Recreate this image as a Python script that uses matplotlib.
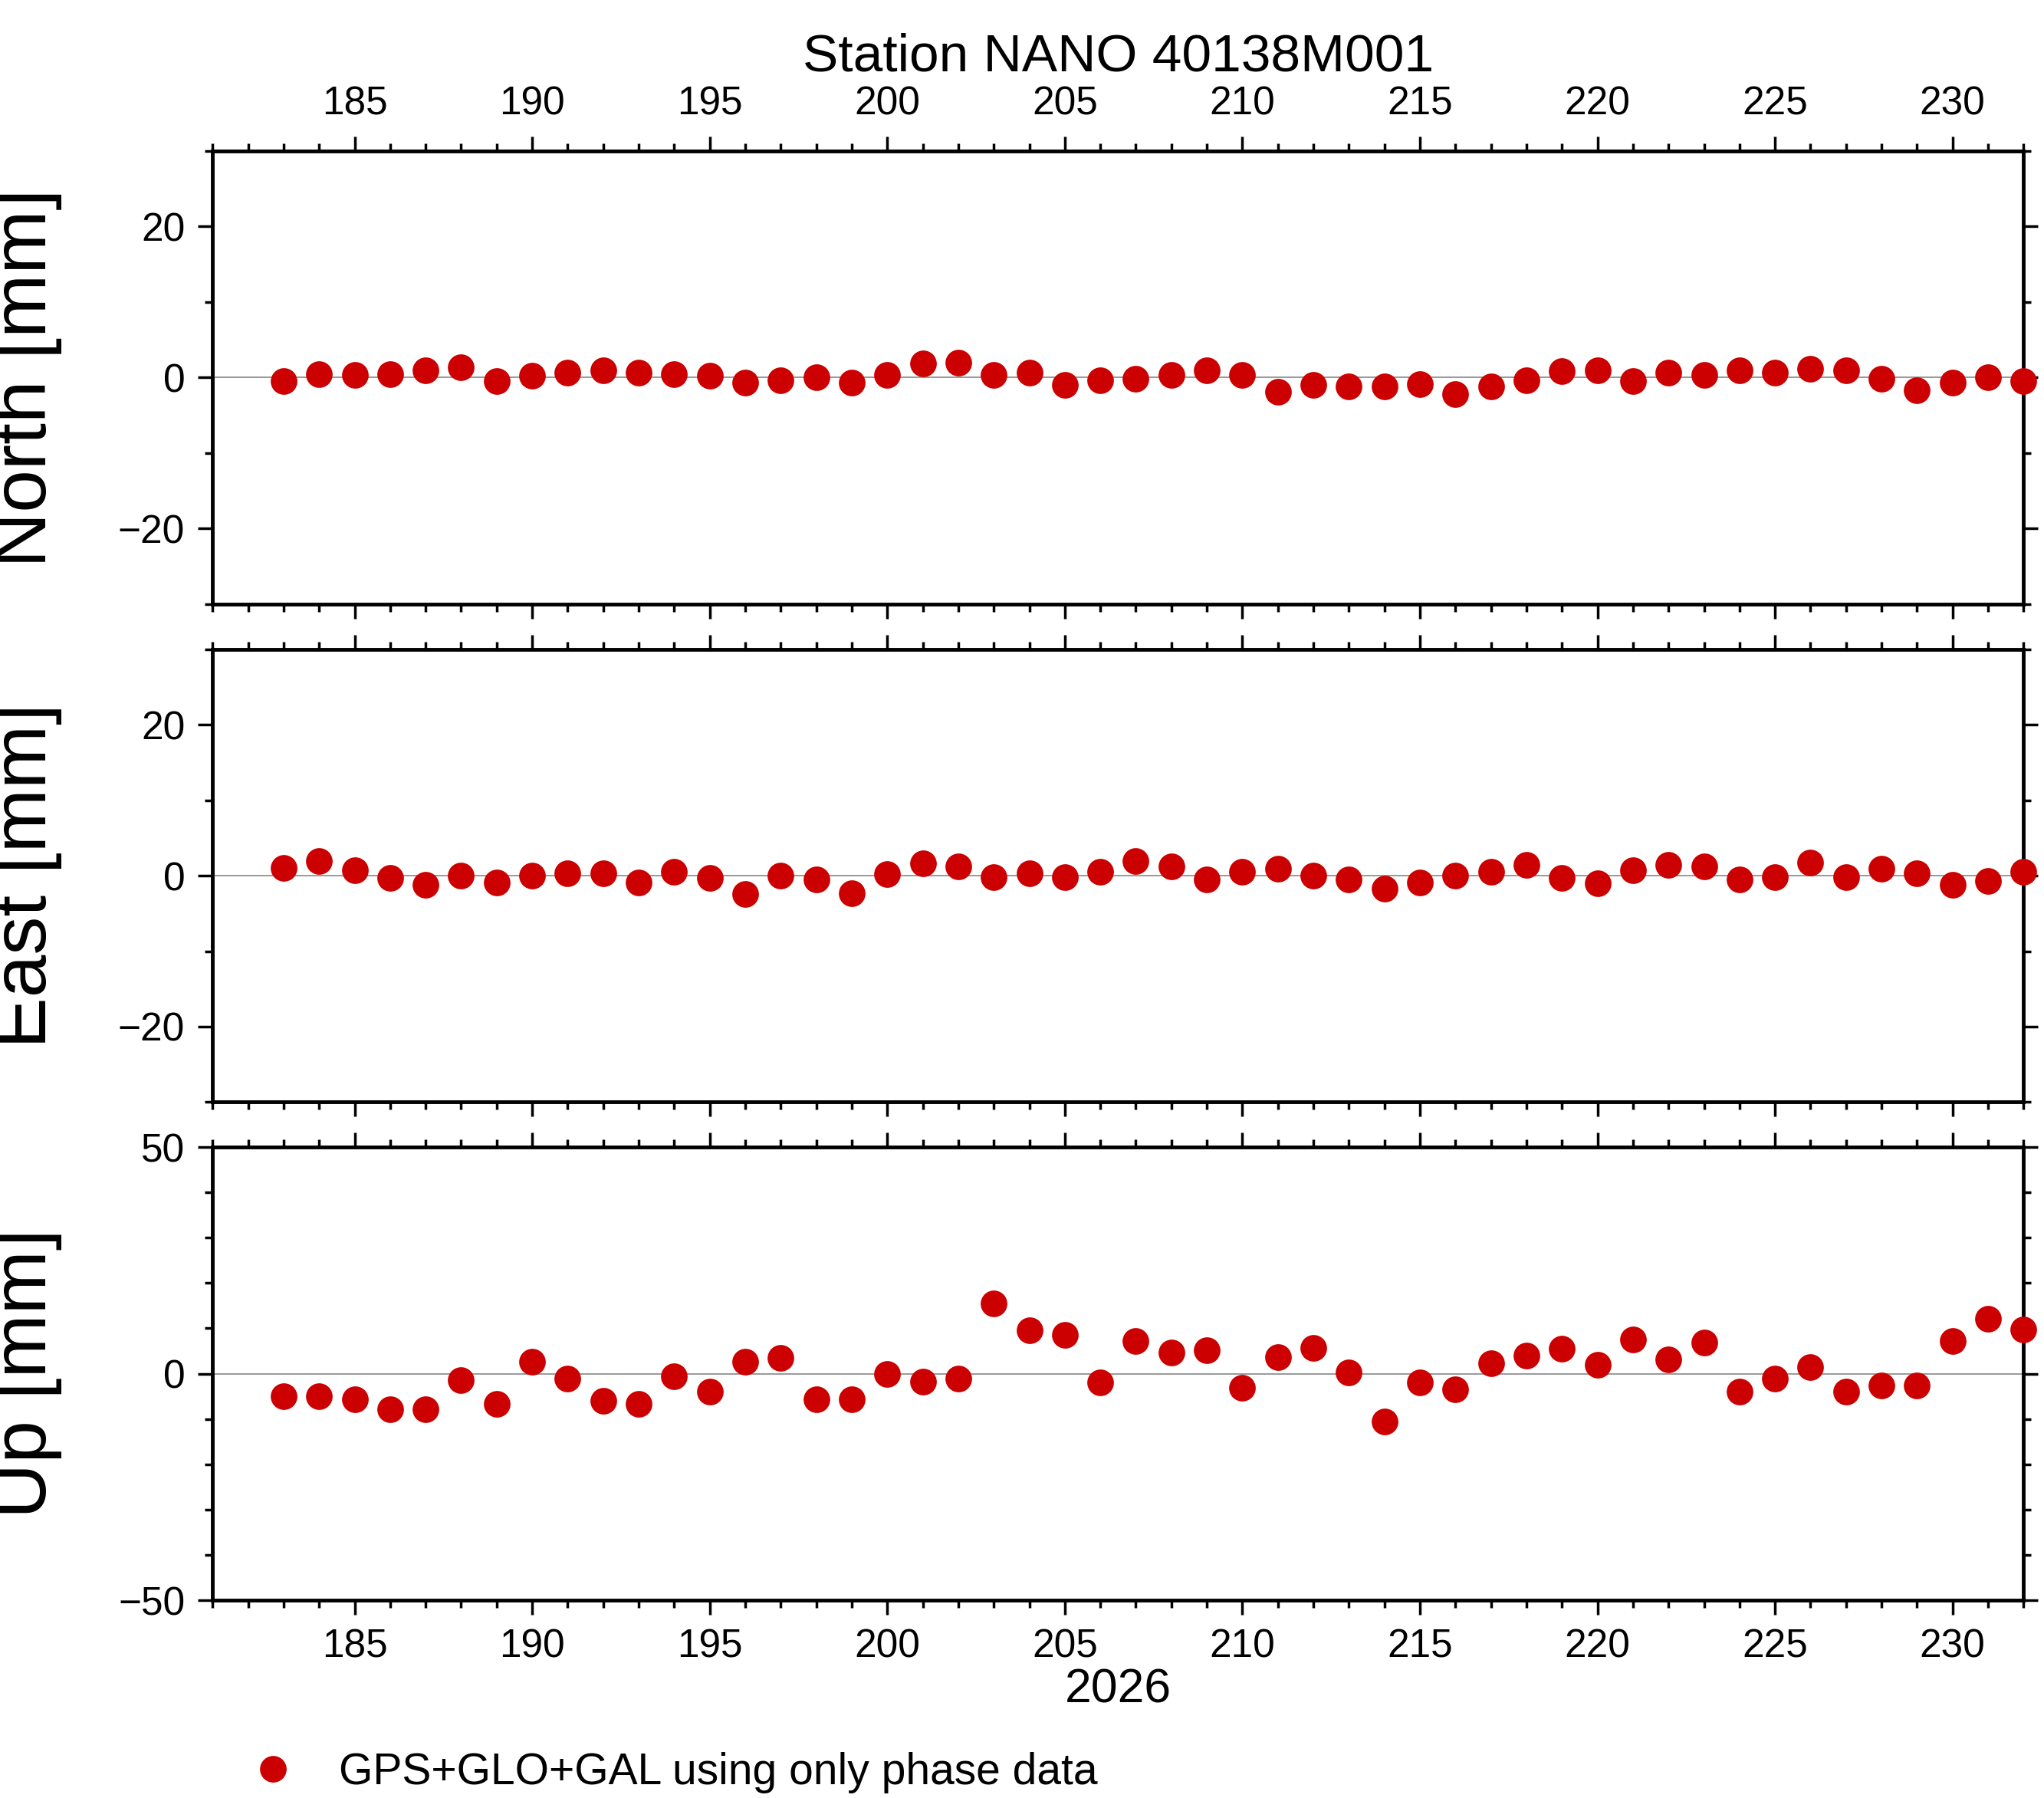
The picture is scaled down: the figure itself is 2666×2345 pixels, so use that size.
import matplotlib
matplotlib.use("Agg")
import matplotlib.pyplot as plt
from matplotlib.ticker import MultipleLocator
from matplotlib.lines import Line2D

plt.rcParams['font.family'] = ['Liberation Sans', 'DejaVu Sans']

days = list(range(183, 233))
north = [-0.5,0.5,0.3,0.5,1.0,1.4,-0.5,0.2,0.7,1.0,0.7,0.5,0.2,-0.7,-0.4,0.0,-0.7,0.3,1.9,2.0,
         0.3,0.7,-1.0,-0.4,-0.2,0.3,1.0,0.3,-1.9,-1.0,-1.2,-1.2,-0.9,-2.2,-1.2,-0.4,0.9,1.0,-0.5,0.7,
         0.3,1.0,0.7,1.2,1.0,-0.2,-1.7,-0.7,0.0,-0.5]
east = [1.0,1.9,0.7,-0.3,-1.2,0.0,-0.9,0.0,0.3,0.3,-0.9,0.5,-0.3,-2.4,0.0,-0.5,-2.3,0.2,1.6,1.2,
        -0.2,0.3,-0.2,0.5,1.9,1.2,-0.5,0.5,0.9,0.0,-0.5,-1.7,-0.9,0.0,0.5,1.4,-0.3,-1.0,0.7,1.4,
        1.2,-0.5,-0.2,1.7,-0.2,0.9,0.3,-1.2,-0.7,0.5]
up = [-4.9,-4.9,-5.7,-7.8,-7.8,-1.4,-6.6,2.6,-1.1,-6.0,-6.6,-0.6,-4.0,2.6,3.4,-5.7,-5.7,0.0,-1.7,-1.1,
      15.5,9.5,8.6,-2.0,7.2,4.6,5.2,-3.2,3.7,5.7,0.3,-10.6,-2.0,-3.4,2.3,4.0,5.5,2.0,7.5,3.2,
      6.9,-4.0,-1.1,1.4,-4.0,-2.6,-2.6,7.2,12.1,9.8]

fig = plt.figure(figsize=(26.66, 23.45), dpi=100)
L, W = 0.104, 0.886
panels = [
    ("North [mm]", north, (0.664, 0.252), (-30, 30), 20, 10),
    ("East [mm]", east, (0.387, 0.252), (-30, 30), 20, 10),
    ("Up [mm]", up, (0.110, 0.252), (-50, 50), 50, 10),
]
red = '#cc0000'
for i, (lab, vals, (b, h), yl, maj, mnr) in enumerate(panels):
    ax = fig.add_axes([L, b, W, h])
    ax.axhline(0, color='#888888', lw=1.2, zorder=1)
    ax.plot(days, vals, 'o', color=red, ms=25, mec='none', clip_on=False, zorder=3)
    ax.set_xlim(181, 232)
    ax.set_ylim(*yl)
    ax.xaxis.set_major_locator(MultipleLocator(5))
    ax.xaxis.set_minor_locator(MultipleLocator(1))
    ax.yaxis.set_major_locator(MultipleLocator(maj))
    ax.yaxis.set_minor_locator(MultipleLocator(mnr))
    for s in ax.spines.values():
        s.set_linewidth(3.5)
    ax.tick_params(which='both', direction='out', top=True, right=True, width=2.5,
                   labelsize=37, pad=12)
    ax.tick_params(which='major', length=14)
    ax.tick_params(which='minor', length=7)
    ax.tick_params(axis='x', labelbottom=(i == 2), labeltop=(i == 0))
    ax.set_ylabel(lab, fontsize=72)
    ax.yaxis.set_label_coords(-0.083, 0.5)
    if i == 0:
        ax.set_title("Station NANO 40138M001", fontsize=50, pad=75)
    if i == 2:
        ax.set_xlabel("2026", fontsize=45, labelpad=2)

h = Line2D([], [], marker='o', ls='none', color=red, ms=25, mec='none')
fig.legend([h], ["GPS+GLO+GAL using only phase data"], loc='center left',
           bbox_to_anchor=(0.093, 0.014), frameon=False, fontsize=41, handletextpad=0.5)
fig.savefig("out.png", dpi=100)
